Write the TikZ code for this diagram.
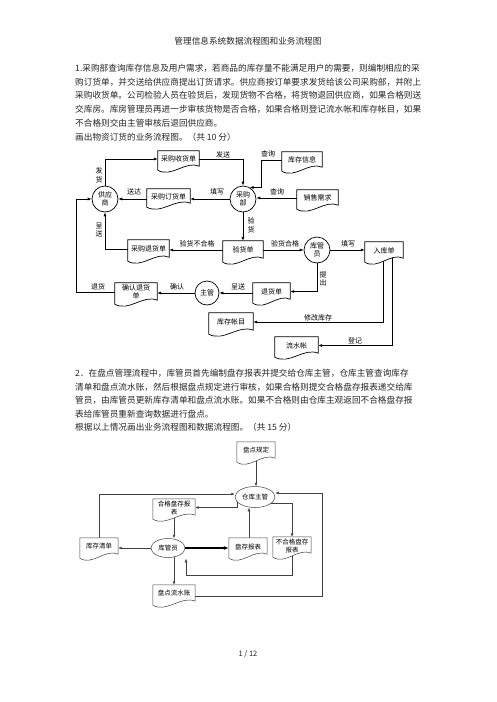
\documentclass[tikz,border=0pt]{standalone}
\usepackage{fontspec}
\newfontfamily\cjk{Noto Sans CJK SC}
\usetikzlibrary{arrows.meta,calc,shapes.geometric}
\pgfdeclarelayer{back}\pgfdeclarelayer{bg}\pgfdeclarelayer{mid}
\pgfsetlayers{back,bg,mid,main}
\XeTeXlinebreaklocale "zh"
\XeTeXlinebreakskip=0pt plus 3pt
\newcommand\docshape[2][]{%
  \draw[docline,#1] (#2.north west) -- (#2.north east) -- ($(#2.south east)+(0,-1)$)
   .. controls ($(#2.south east)!0.33!(#2.south west)+(0,-7)$) and ($(#2.south east)!0.67!(#2.south west)+(0,11)$)
   .. ($(#2.south west)+(0,3)$) -- cycle;}
\begin{document}
\begin{tikzpicture}[x=1pt,y=-1pt,
  txt/.style={font=\cjk\fontsize{8.65}{10}\selectfont, inner sep=0, text=black!85},
  dg/.style={font=\cjk\fontsize{7}{8.5}\selectfont, inner sep=0, align=center},
  dg2/.style={font=\cjk\fontsize{6.5}{8}\selectfont, inner sep=0, align=center},
  docbox/.style={dg, rectangle},
  docbox2/.style={dg2, rectangle},
  docline/.style={draw=black, line width=0.7, fill=white},
  circ/.style={dg, circle, draw, fill=white, minimum size=26, line width=0.7},
  ell/.style={dg2, ellipse, draw=black!75, fill=white, line width=0.5, minimum width=40, minimum height=21},
  arr/.style={draw, line width=0.7, -{Latex[length=4pt,width=3pt]}},
  arr2/.style={draw=black!75, line width=0.5, -{Latex[length=3.5pt,width=2.8pt]}},
  lbl/.style={dg}]
\useasboundingbox (0,0) rectangle (496,702);
\begin{pgfonlayer}{back}
\fill[white] (0,0) rectangle (496,702);
\end{pgfonlayer}

% ---------- texts ----------
\node[txt] (title) at (248,41) {管理信息系统数据流程图和业务流程图};
\node[txt,anchor=west] (a1) at (75,68.3) {\makebox[346pt][s]{1.采购部查询库存信息及用户需求，若商品的库存量不能满足用户的需要，则编制相应的采}};
\node[txt,anchor=west] (a2) at (75,82) {\makebox[346pt][s]{购订货单，并交送给供应商提出订货请求。供应商按订单要求发货给该公司采购部，并附上}};
\node[txt,anchor=west] (a3) at (75,95.7) {\makebox[346pt][s]{采购收货单。公司检验人员在验货后，发现货物不合格，将货物退回供应商，如果合格则送}};
\node[txt,anchor=west] (a4) at (75,109.4) {\makebox[346pt][s]{交库房。库房管理员再进一步审核货物是否合格，如果合格则登记流水帐和库存帐目，如果}};
\node[txt,anchor=west] (a5) at (75,123.1) {不合格则交由主管审核后退回供应商。};
\node[txt,anchor=west] (a6) at (75,136.8) {画出物资订货的业务流程图。（共 10 分）};

\node[txt,anchor=west] (b1) at (75,373.3) {\makebox[339pt][s]{2．在盘点管理流程中，库管员首先编制盘存报表并提交给仓库主管，仓库主管查询库存}};
\node[txt,anchor=west] (b2) at (75,386.8) {\makebox[339pt][s]{清单和盘点流水账，然后根据盘点规定进行审核，如果合格则提交合格盘存报表递交给库}};
\node[txt,anchor=west] (b3) at (75,400.3) {\makebox[339pt][s]{管员，由库管员更新库存清单和盘点流水账。如果不合格则由仓库主观返回不合格盘存报}};
\node[txt,anchor=west] (b4) at (75,413.8) {表给库管员重新查询数据进行盘点。};
\node[txt,anchor=west] (b5) at (75,427.3) {根据以上情况画出业务流程图和数据流程图。（共 15 分）};

\node[txt, font=\cjk\fontsize{7.5}{9}\selectfont] (pg) at (248,654) {1 / 12};

% ---------- diagram 1 ----------
\node[circ] (gys) at (105,199) {供应\\商};
\node[circ] (cgb) at (243,199) {采购\\部};
\node[circ] (kgy) at (317,250) {库管\\员};
\node[circ, minimum size=24] (zg) at (207,293) {主管};

\node[docbox, minimum width=41, minimum height=16] (sh) at (178.5,159) {采购收货单};
\node[docbox, minimum width=43, minimum height=15] (dh) at (168.5,196.5) {采购订货单};
\node[docbox, minimum width=41, minimum height=18] (th) at (148.5,249) {采购退货单};
\node[docbox, minimum width=40, minimum height=18] (yh) at (243,250) {验货单};
\node[docbox, minimum width=38, minimum height=17] (rk) at (384,250.5) {入库单};
\node[docbox, minimum width=37, minimum height=17] (tu) at (271.5,291.5) {退货单};
\node[docbox, minimum width=42, minimum height=18] (qr) at (136,292) {确认退货\\单};
\node[docbox, minimum width=44, minimum height=18] (kz) at (231,322) {库存帐目};
\node[docbox, minimum width=43, minimum height=17] (ls) at (296.5,345.5) {流水帐};
\node[docbox, minimum width=40, minimum height=16] (kx) at (302,160) {库存信息};
\node[docbox, minimum width=41, minimum height=16] (xq) at (317.5,198) {销售需求};

\node[lbl] (l1) at (223,155) {发送};
\node[lbl] (l2) at (99,175.5) {发\\货};
\node[lbl] (l3) at (217,192) {填写};
\node[lbl] (l4) at (134,192) {送达};
\node[lbl] (l5) at (268,154) {查询};
\node[lbl] (l6) at (277,192) {查询};
\node[lbl] (l7) at (251,225.5) {验\\货};
\node[lbl] (l8) at (197,244) {验货不合格};
\node[lbl] (l9) at (285,244) {验货合格};
\node[lbl] (l10) at (348,244) {填写};
\node[lbl] (l11) at (99,230) {呈\\送};
\node[lbl] (l12) at (323,279) {提\\出};
\node[lbl] (l13) at (98,287) {退货};
\node[lbl] (l14) at (177,287) {确认};
\node[lbl] (l15) at (238,287) {呈送};
\node[lbl] (l16) at (318,318) {修改库存};
\node[lbl] (l17) at (355,341) {登记};

% ---------- diagram 2 ----------
\node[docbox2, minimum width=38, minimum height=17] (pdgd) at (256,450.5) {盘点规定};
\node[ell] (ckzg) at (255,497) {仓库主管};
\node[docbox2, minimum width=42, minimum height=17] (hg) at (174,507.5) {合格盘存报\\表};
\node[docbox2, minimum width=38, minimum height=17] (bhg) at (292,545.5) {不合格盘存\\报表};
\node[docbox2, minimum width=38, minimum height=17] (pcbb) at (248,546.5) {盘存报表};
\node[docbox2, minimum width=38, minimum height=17] (kcqd) at (99,546.5) {库存清单};
\node[ell, minimum width=34, minimum height=19] (kgy2) at (168,548) {库管员};
\node[docbox2, minimum width=42, minimum height=17] (pdls) at (174,593.5) {盘点流水账};

\begin{pgfonlayer}{mid}
\foreach \n in {sh,dh,th,yh,rk,tu,qr,kz,ls,kx,xq} {\docshape{\n}}
\foreach \n in {pdgd,hg,bhg,pcbb,kcqd,pdls} {\docshape[draw=black!75,line width=0.5]{\n}}
\end{pgfonlayer}

\begin{pgfonlayer}{bg}
\draw[arr] (gys.north) |- (sh.west);
\draw[arr] (sh.east) -| (cgb.north);
\draw[arr] (cgb.west) -- (cgb.west -| dh.east);
\draw[arr] (dh.west |- gys.east) -- (gys.east);
\draw[arr] (cgb.south) -- (yh.north);
\draw[arr] (yh.west) -- (yh.west -| th.east);
\draw[arr] (th.west) -| (gys.south);
\draw[arr] (qr.west) -- ++(-38,0) |- (gys.west);
\draw[arr] (zg.west) -- (zg.west -| qr.east);
\draw[arr] (zg.east -| tu.west) -- (zg.east);
\draw[arr] (kgy.south) |- (tu.east);
\draw[arr] (yh.east |- kgy.west) -- (kgy.west);
\draw[arr] (kgy.east) -- (kgy.east -| rk.west);
\draw[arr] ([xshift=-1pt]rk.center) |- (kz.east);
\draw[arr] ([xshift=8pt]rk.center) |- (ls.east);
\draw[arr] (kx.west) -- ++(-20,0) |- (cgb.60);
\draw[arr] (xq.west) -- (xq.west -| cgb.east);

\draw[arr2] (pdgd.center) -- (pdgd.center |- ckzg.north);
\draw[arr2] (kcqd.center) |- ([yshift=3pt]ckzg.west);
\draw[arr2] ([xshift=-18pt]ckzg.center) |- (hg.east);
\draw[arr2] ([yshift=-6pt]ckzg.center) -| (bhg.north);
\draw[arr2] ([xshift=1pt]pcbb.center) -- ([xshift=1pt]pcbb.center |- ckzg.south);
\draw[arr2, draw=black, line width=1.3, -{Latex[length=5pt,width=4pt]}] (kgy2.east) -- (kgy2.east -| pcbb.west);
\draw[arr2] (kgy2.west) -- (kgy2.west -| kcqd.east);
\draw[arr2] (hg.center) -- (hg.center |- kgy2.north);
\draw[arr2] (kgy2.center -| pdls.north) -- (pdls.north);
\draw[arr2] (bhg.center) -- ++(0,29.5) -| ([xshift=18pt,yshift=-1pt]kgy2.south);
\draw[arr2] ([yshift=-3pt]pdls.east) -- ++(127,0) |- ([yshift=4pt]ckzg.east);
\end{pgfonlayer}
\end{tikzpicture}
\end{document}
